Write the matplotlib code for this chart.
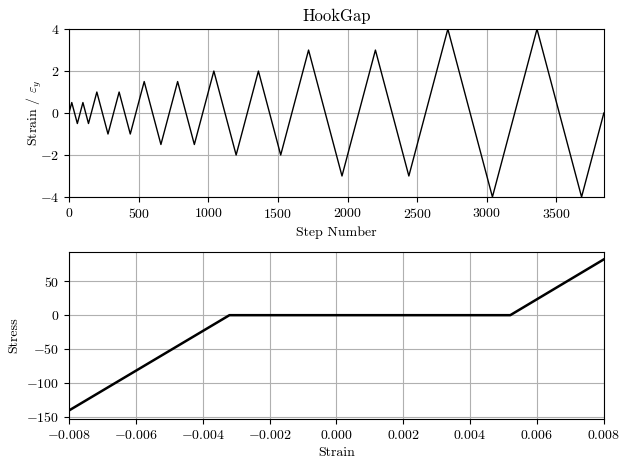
import numpy as np
import matplotlib.pyplot as plt

plt.rcParams["font.family"] = "cmr10"
plt.rcParams["mathtext.fontset"] = "cm"
plt.rcParams["axes.formatter.use_mathtext"] = True
plt.rcParams["font.size"] = 10

# strain protocol: reversal points (step number, strain / eps_y)
steps = [0, 20, 60, 100, 140, 200, 280, 360, 440, 540, 660, 780, 900,
         1040, 1200, 1360, 1520, 1720, 1960, 2200, 2440, 2720, 3040,
         3360, 3680, 3840]
strainNorm = [0, 0.5, -0.5, 0.5, -0.5, 1, -1, 1, -1, 1.5, -1.5, 1.5, -1.5,
              2, -2, 2, -2, 3, -3, 3, -3, 4, -4, 4, -4, 0]

# stress-strain response (corner points of the hook-gap curve)
strainPts = [-0.008, -0.0032, 0.0052, 0.008]
stressPts = [-141.0, 0.0, 0.0, 82.6]

fig = plt.figure(figsize=(6.3, 4.69), dpi=100)
ax1 = fig.add_axes([0.1095, 0.58, 0.849, 0.358])
ax2 = fig.add_axes([0.1095, 0.1066, 0.849, 0.356])

ax1.plot(steps, strainNorm, "k-", lw=1.0)
ax1.set_xlim(0, 3840)
ax1.set_ylim(-4, 4)
ax1.set_yticks([-4, -2, 0, 2, 4])
ax1.set_xlabel("Step Number")
ax1.set_ylabel(r"Strain / $\varepsilon_y$", labelpad=-3)
ax1.set_title("HookGap")
ax1.grid()

ax2.plot(strainPts, stressPts, "k-", lw=1.8)
ax2.set_xlim(-0.008, 0.008)
ax2.set_ylim(-153.6, 93.4)
ax2.set_xticks(np.arange(-0.008, 0.0081, 0.002))
ax2.set_xlabel("Strain")
ax2.set_ylabel("Stress")
ax2.grid()

fig.savefig("out.png", dpi=100)
